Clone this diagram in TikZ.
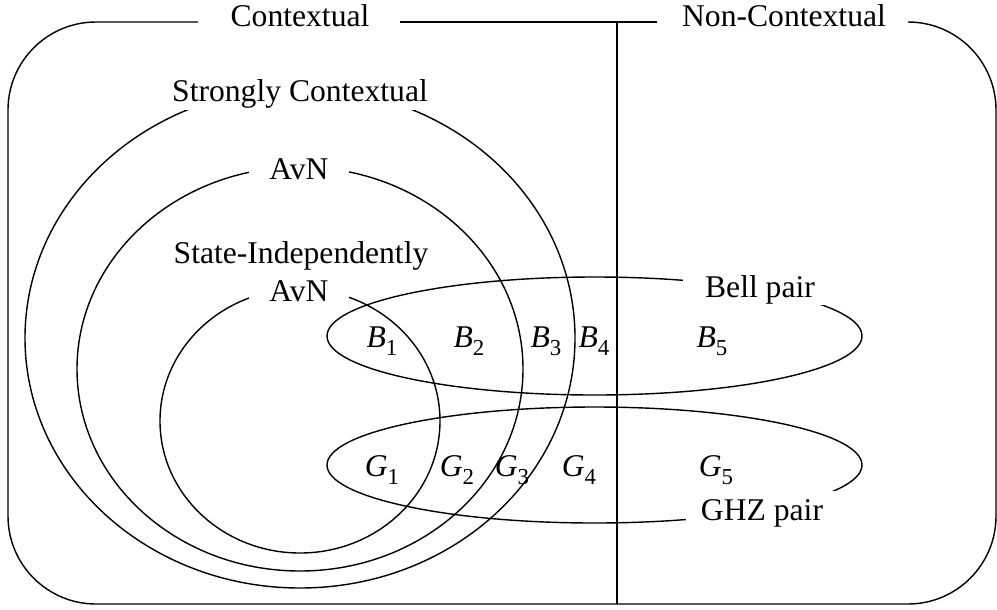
\documentclass[tikz,border=0pt]{standalone}
\usepackage{fontspec}
\setmainfont{Liberation Serif}
\usepackage{tikz}
\usetikzlibrary{positioning}
\newcommand{\region}[2]{\textit{#1}\raisebox{-5pt}{\fontsize{13}{13}\selectfont #2}}
\newcommand{\bigtext}{\fontsize{18}{22}\selectfont}
\tikzset{
  frame/.style={line width=0.8pt, rounded corners=1.76cm},
  setline/.style={line width=0.8pt},
  title/.style={anchor=base, inner sep=0pt, font=\bigtext},
  setname/.style={anchor=base, fill=white, inner xsep=0.2cm, inner ysep=1pt, font=\bigtext},
  reglabel/.style={anchor=base, inner sep=0pt, font=\bigtext}
}

\begin{document}
\begin{tikzpicture}[x=0.02cm, y=-0.02cm]
  \useasboundingbox (0,0) rectangle (997,609);

  % Outer frame
  \draw[frame] (198,22) -- (8,22) -- (8,604) -- (996,604) -- (996,22) -- (908,22);
  \draw[setline] (400,22) -- (657,22);
  \draw[setline] (617,22) -- (617,604);
  \node[title] (ctx) at (300,26) {Contextual};
  \node[title] (nonctx) at (784,26) {Non-Contextual};

  % Nested sets
  \coordinate (strong) at (300,338);
  \coordinate (avn) at (300,369);
  \coordinate (siavn) at (300,421);
  \draw[setline] (strong) ellipse [x radius=275, y radius=250];
  \draw[setline] (avn) ellipse [x radius=223, y radius=202];
  \draw[setline] (siavn) ellipse [x radius=140, y radius=132];
  \node[setname] (strongname) at (300,101) {Strongly Contextual};
  \node[setname, inner xsep=0.4cm] (avnname) at (299,179) {AvN};
  \node[title] (siname) at (301,263) {State-Independently};
  \node[setname, inner xsep=0.4cm] (siavnname) at (299,301) {AvN};

  % Pairs
  \coordinate (bell) at (594.5,336);
  \coordinate (ghz) at (594.5,465);
  \draw[setline] (bell) ellipse [x radius=267.5, y radius=59];
  \draw[setline] (ghz) ellipse [x radius=267.5, y radius=58];
  \node[setname, inner xsep=0.44cm] (bellname) at (760,297) {Bell pair};
  \node[setname, inner xsep=0.3cm, inner ysep=4.5pt] (ghzname) at (762,520) {GHZ pair};

  % Regions
  \node[reglabel] (b1) at (382,347) {\region{B}{1}};
  \node[reglabel] (b2) at (469,347) {\region{B}{2}};
  \node[reglabel] (b3) at (546,347) {\region{B}{3}};
  \node[reglabel] (b4) at (594,347) {\region{B}{4}};
  \node[reglabel] (b5) at (712,347) {\region{B}{5}};
  \node[reglabel] (g1) at (382,476) {\region{G}{1}};
  \node[reglabel] (g2) at (457,476) {\region{G}{2}};
  \node[reglabel] (g3) at (512,476) {\region{G}{3}};
  \node[reglabel] (g4) at (579,476) {\region{G}{4}};
  \node[reglabel] (g5) at (716,476) {\region{G}{5}};
\end{tikzpicture}
\end{document}
